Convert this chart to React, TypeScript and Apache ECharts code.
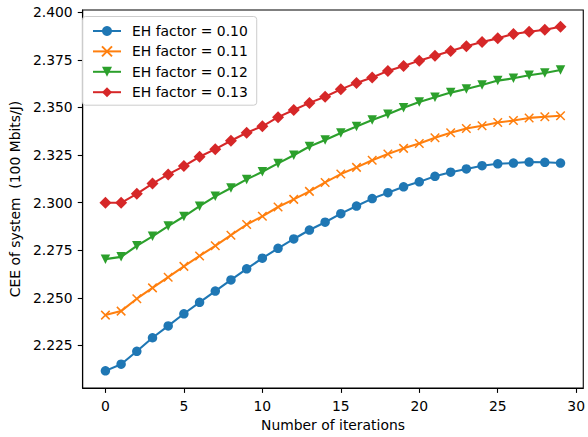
import React, { useEffect, useRef } from "react";
import * as echarts from "echarts";

const iterations = [0, 1, 2, 3, 4, 5, 6, 7, 8, 9, 10, 11, 12, 13, 14, 15, 16, 17, 18, 19, 20, 21, 22, 23, 24, 25, 26, 27, 28, 29];

const eh010 = [2.2116, 2.2151, 2.2219, 2.229, 2.2352, 2.2416, 2.2476, 2.2535, 2.2594, 2.2652, 2.2708, 2.276, 2.2809, 2.2856, 2.2897, 2.2942, 2.2982, 2.3021, 2.3052, 2.3083, 2.3109, 2.3138, 2.316, 2.3177, 2.3194, 2.3204, 2.3208, 2.3213, 2.3212, 2.3208];
const eh011 = [2.2409, 2.243, 2.2495, 2.2552, 2.2608, 2.2665, 2.272, 2.2773, 2.2829, 2.2885, 2.2928, 2.2977, 2.3017, 2.3059, 2.3106, 2.315, 2.3185, 2.3223, 2.3255, 2.3285, 2.3311, 2.3341, 2.3367, 2.3389, 2.3404, 2.3421, 2.3431, 2.3445, 2.3451, 2.3456];
const eh012 = [2.2703, 2.2715, 2.2773, 2.2823, 2.2877, 2.2927, 2.2981, 2.3033, 2.3077, 2.3122, 2.3162, 2.3206, 2.3249, 2.3295, 2.3329, 2.3366, 2.34, 2.3434, 2.3464, 2.3498, 2.3529, 2.3553, 2.3578, 2.3597, 2.3618, 2.3641, 2.3653, 2.3669, 2.3681, 2.3697];
const eh013 = [2.2999, 2.2999, 2.3046, 2.31, 2.3148, 2.3192, 2.3241, 2.3281, 2.3325, 2.3367, 2.3401, 2.3449, 2.3487, 2.3524, 2.3556, 2.3595, 2.3629, 2.3657, 2.3692, 2.3718, 2.3746, 2.3772, 2.3797, 2.3821, 2.3844, 2.3863, 2.3886, 2.3898, 2.3908, 2.3924];

const seriesNames = ["EH factor = 0.10", "EH factor = 0.11", "EH factor = 0.12", "EH factor = 0.13"];
const xTicks = [0, 5, 10, 15, 20, 25, 30];
const yTicks = [2.225, 2.25, 2.275, 2.3, 2.325, 2.35, 2.375, 2.4];

const FONT = "DejaVu Sans";

export default function App() {
  const ref = useRef<HTMLDivElement>(null);
  useEffect(() => {
    if (!ref.current) return;
    const chart = echarts.init(ref.current, null, { renderer: "svg" });
    const pair = (vals: number[]) => iterations.map((x, i) => [x, vals[i]]);
    const base = {
      type: "line",
      lineStyle: { width: 2.1 },
      showAllSymbol: true,
    };
    const axisLine = { show: true, onZero: false, lineStyle: { color: "#000", width: 1.1 } };
    chart.setOption({
      animation: false,
      textStyle: { fontFamily: FONT },
      grid: {
        left: 79.5,
        right: 0.5,
        top: 10,
        bottom: 49,
        show: true,
        borderColor: "#000",
        borderWidth: 1.1,
        backgroundColor: "transparent",
      },
      legend: {
        orient: "vertical",
        left: 82.5,
        top: 16.5,
        padding: [7.5, 9, 6, 9.5],
        itemWidth: 28,
        itemHeight: 12.5,
        itemGap: 6.4,
        backgroundColor: "rgba(255,255,255,0.8)",
        borderColor: "#cccccc",
        borderWidth: 1,
        borderRadius: 3,
        textStyle: { fontFamily: FONT, fontSize: 13.9, color: "#000", padding: [0, 0, 0, 6] },
        data: seriesNames,
      },
      xAxis: {
        type: "value",
        min: -1.45,
        max: 30.45,
        name: "Number of iterations",
        nameLocation: "middle",
        nameGap: 29,
        nameTextStyle: { fontFamily: FONT, fontSize: 13.9, color: "#000" },
        axisLine,
        axisTick: { show: true, inside: false, length: 4.9, lineStyle: { color: "#000", width: 1.1 }, customValues: xTicks },
        axisLabel: { fontFamily: FONT, fontSize: 13.9, color: "#000", margin: 11, customValues: xTicks, formatter: (v: number) => String(v) },
        splitLine: { show: false },
      },
      yAxis: {
        type: "value",
        min: 2.2026,
        max: 2.4012,
        name: "CEE of system  (100 Mbits/J)",
        nameLocation: "middle",
        nameGap: 58,
        nameTextStyle: { fontFamily: FONT, fontSize: 13.9, color: "#000" },
        axisLine,
        axisTick: { show: true, inside: false, length: 4.9, lineStyle: { color: "#000", width: 1.1 }, customValues: yTicks },
        axisLabel: { fontFamily: FONT, fontSize: 13.9, color: "#000", margin: 10, customValues: yTicks, formatter: (v: number) => v.toFixed(3) },
        splitLine: { show: false },
      },
      series: [
        {
          ...base,
          name: seriesNames[0],
          data: pair(eh010),
          color: "#1f77b4",
          symbol: "circle",
          symbolSize: 9.5,
          itemStyle: { color: "#1f77b4" },
        },
        {
          ...base,
          name: seriesNames[1],
          data: pair(eh011),
          color: "#ff7f0e",
          symbol: "path://M0,0L10,10M10,0L0,10",
          symbolSize: 8.5,
          itemStyle: { color: "#ff7f0e", borderColor: "#ff7f0e", borderWidth: 1.5 },
        },
        {
          ...base,
          name: seriesNames[2],
          data: pair(eh012),
          color: "#2ca02c",
          symbol: "triangle",
          symbolRotate: 180,
          symbolSize: 9.5,
          itemStyle: { color: "#2ca02c" },
        },
        {
          ...base,
          name: seriesNames[3],
          data: pair(eh013),
          color: "#d62728",
          symbol: "diamond",
          symbolSize: 12,
          itemStyle: { color: "#d62728" },
        },
      ],
    });
    return () => chart.dispose();
  }, []);
  return <div ref={ref} style={{ position: "fixed", left: 0, top: 0, width: 588, height: 437, background: "#fff" }} />;
}
